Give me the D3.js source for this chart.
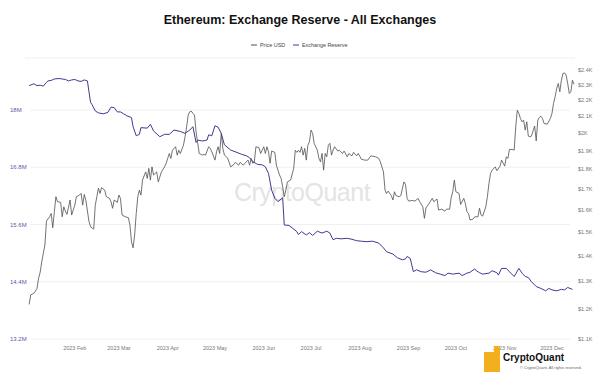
<!DOCTYPE html>
<html lang="en">
<head>
    <meta charset="UTF-8">
    <title>Ethereum: Exchange Reserve - All Exchanges</title>
    <script src="https://d3js.org/d3.v7.min.js"></script>
    <style>
        body {
            margin: 0;
            padding: 0;
            background-color: #fff;
            font-family: "Liberation Sans", Arial, sans-serif;
        }
        #chart {
            display: block;
        }
    </style>
</head>
<body>
    <svg id="chart" width="600" height="378"></svg>

    <script>
        // Exchange reserve (ETH, millions)
        const reserveDates = [
            "2023-01-03", "2023-01-06", "2023-01-08", "2023-01-10", "2023-01-12", "2023-01-14", "2023-01-15", "2023-01-17",
            "2023-01-19", "2023-01-22", "2023-01-24", "2023-01-26", "2023-01-28", "2023-01-30", "2023-02-01", "2023-02-03",
            "2023-02-05", "2023-02-07", "2023-02-09", "2023-02-10", "2023-02-11", "2023-02-12", "2023-02-14", "2023-02-16",
            "2023-02-19", "2023-02-22", "2023-02-24", "2023-02-26", "2023-02-28", "2023-03-02", "2023-03-04", "2023-03-06",
            "2023-03-09", "2023-03-10", "2023-03-12", "2023-03-14", "2023-03-15", "2023-03-19", "2023-03-21", "2023-03-23",
            "2023-03-27", "2023-03-30", "2023-04-02", "2023-04-05", "2023-04-09", "2023-04-12", "2023-04-15", "2023-04-17",
            "2023-04-19", "2023-04-20", "2023-04-23", "2023-04-26", "2023-04-27", "2023-04-29", "2023-05-01", "2023-05-03",
            "2023-05-05", "2023-05-07", "2023-05-11", "2023-05-15", "2023-05-18", "2023-05-21", "2023-05-23", "2023-05-25",
            "2023-05-28", "2023-05-31", "2023-06-02", "2023-06-04", "2023-06-06", "2023-06-08", "2023-06-10", "2023-06-13",
            "2023-06-14", "2023-06-17", "2023-06-19", "2023-06-22", "2023-06-23", "2023-06-25", "2023-06-28", "2023-06-30",
            "2023-07-02", "2023-07-05", "2023-07-08", "2023-07-11", "2023-07-13", "2023-07-15", "2023-07-17", "2023-07-20",
            "2023-07-24", "2023-07-27", "2023-07-30", "2023-08-02", "2023-08-05", "2023-08-09", "2023-08-13", "2023-08-16",
            "2023-08-18", "2023-08-22", "2023-08-25", "2023-08-28", "2023-08-30", "2023-08-31", "2023-09-02", "2023-09-04",
            "2023-09-06", "2023-09-09", "2023-09-12", "2023-09-15", "2023-09-18", "2023-09-21", "2023-09-24", "2023-09-26",
            "2023-09-29", "2023-10-03", "2023-10-05", "2023-10-08", "2023-10-10", "2023-10-13", "2023-10-14", "2023-10-16",
            "2023-10-18", "2023-10-22", "2023-10-24", "2023-10-27", "2023-10-28", "2023-10-30", "2023-11-02", "2023-11-04",
            "2023-11-07", "2023-11-10", "2023-11-12", "2023-11-14", "2023-11-16", "2023-11-18", "2023-11-21", "2023-11-24",
            "2023-11-27", "2023-11-29", "2023-12-01", "2023-12-04", "2023-12-07", "2023-12-09", "2023-12-11", "2023-12-14"
        ];
        const reserveValues = [
            18.51, 18.55, 18.51, 18.52, 18.50, 18.58, 18.61, 18.62,
            18.65, 18.66, 18.65, 18.64, 18.61, 18.63, 18.64, 18.61,
            18.60, 18.63, 18.61, 18.38, 18.16, 18.11, 17.98, 17.94,
            17.92, 17.95, 18.06, 18.05, 17.96, 17.96, 17.92, 17.88,
            17.84, 17.65, 17.46, 17.49, 17.63, 17.62, 17.70, 17.56,
            17.44, 17.49, 17.49, 17.58, 17.55, 17.51, 17.58, 17.65,
            17.32, 17.37, 17.35, 17.37, 17.48, 17.46, 17.67, 17.64,
            17.51, 17.27, 17.16, 17.11, 17.07, 17.04, 17.00, 16.92,
            16.86, 16.85, 16.81, 16.67, 16.32, 16.15, 16.08, 16.16,
            15.59, 15.58, 15.53, 15.45, 15.39, 15.45, 15.38, 15.43,
            15.37, 15.46, 15.42, 15.46, 15.42, 15.28, 15.31, 15.30,
            15.31, 15.29, 15.26, 15.25, 15.24, 15.25, 15.21, 15.11,
            15.03, 14.98, 14.90, 14.86, 14.88, 14.93, 14.89, 14.61,
            14.65, 14.61, 14.60, 14.65, 14.59, 14.56, 14.53, 14.58,
            14.56, 14.58, 14.53, 14.58, 14.60, 14.67, 14.63, 14.59,
            14.56, 14.58, 14.63, 14.59, 14.54, 14.68, 14.68, 14.61,
            14.51, 14.68, 14.58, 14.51, 14.49, 14.40, 14.30, 14.26,
            14.21, 14.26, 14.23, 14.21, 14.24, 14.23, 14.28, 14.24
        ];

        // ETH price (USD)
        const priceDates = [
            "2023-01-03", "2023-01-04", "2023-01-06", "2023-01-07", "2023-01-08", "2023-01-09", "2023-01-10", "2023-01-11",
            "2023-01-12", "2023-01-13", "2023-01-14", "2023-01-16", "2023-01-17", "2023-01-18", "2023-01-19", "2023-01-20",
            "2023-01-21", "2023-01-23", "2023-01-24", "2023-01-25", "2023-01-26", "2023-01-27", "2023-01-29", "2023-01-30",
            "2023-02-01", "2023-02-02", "2023-02-04", "2023-02-05", "2023-02-06", "2023-02-07", "2023-02-08", "2023-02-10",
            "2023-02-11", "2023-02-13", "2023-02-14", "2023-02-15", "2023-02-16", "2023-02-17", "2023-02-18", "2023-02-20",
            "2023-02-21", "2023-02-23", "2023-02-24", "2023-02-25", "2023-02-26", "2023-02-28", "2023-03-01", "2023-03-02",
            "2023-03-03", "2023-03-05", "2023-03-07", "2023-03-08", "2023-03-09", "2023-03-10", "2023-03-11", "2023-03-12",
            "2023-03-13", "2023-03-14", "2023-03-15", "2023-03-16", "2023-03-18", "2023-03-19", "2023-03-20", "2023-03-21",
            "2023-03-22", "2023-03-23", "2023-03-25", "2023-03-26", "2023-03-28", "2023-03-30", "2023-03-31", "2023-04-02",
            "2023-04-03", "2023-04-04", "2023-04-06", "2023-04-07", "2023-04-08", "2023-04-09", "2023-04-11", "2023-04-12",
            "2023-04-13", "2023-04-14", "2023-04-15", "2023-04-16", "2023-04-17", "2023-04-18", "2023-04-19", "2023-04-21",
            "2023-04-23", "2023-04-24", "2023-04-25", "2023-04-27", "2023-04-28", "2023-04-29", "2023-05-01", "2023-05-02",
            "2023-05-03", "2023-05-04", "2023-05-05", "2023-05-06", "2023-05-07", "2023-05-09", "2023-05-11", "2023-05-13",
            "2023-05-14", "2023-05-16", "2023-05-17", "2023-05-19", "2023-05-20", "2023-05-22", "2023-05-23", "2023-05-24",
            "2023-05-25", "2023-05-26", "2023-05-27", "2023-05-29", "2023-05-30", "2023-06-01", "2023-06-02", "2023-06-03",
            "2023-06-04", "2023-06-05", "2023-06-06", "2023-06-08", "2023-06-09", "2023-06-11", "2023-06-12", "2023-06-13",
            "2023-06-14", "2023-06-15", "2023-06-16", "2023-06-18", "2023-06-20", "2023-06-21", "2023-06-22", "2023-06-23",
            "2023-06-24", "2023-06-25", "2023-06-26", "2023-06-27", "2023-06-28", "2023-06-29", "2023-06-30", "2023-07-01",
            "2023-07-02", "2023-07-03", "2023-07-05", "2023-07-06", "2023-07-07", "2023-07-08", "2023-07-09", "2023-07-10",
            "2023-07-11", "2023-07-12", "2023-07-13", "2023-07-14", "2023-07-15", "2023-07-16", "2023-07-18", "2023-07-19",
            "2023-07-21", "2023-07-22", "2023-07-24", "2023-07-25", "2023-07-27", "2023-07-28", "2023-07-30", "2023-07-31",
            "2023-08-02", "2023-08-04", "2023-08-06", "2023-08-08", "2023-08-11", "2023-08-13", "2023-08-14", "2023-08-16",
            "2023-08-17", "2023-08-18", "2023-08-19", "2023-08-21", "2023-08-22", "2023-08-23", "2023-08-24", "2023-08-26",
            "2023-08-27", "2023-08-29", "2023-08-30", "2023-08-31", "2023-09-01", "2023-09-03", "2023-09-05", "2023-09-07",
            "2023-09-08", "2023-09-10", "2023-09-11", "2023-09-12", "2023-09-14", "2023-09-16", "2023-09-17", "2023-09-19",
            "2023-09-20", "2023-09-22", "2023-09-24", "2023-09-25", "2023-09-27", "2023-09-28", "2023-09-29", "2023-09-30",
            "2023-10-01", "2023-10-03", "2023-10-04", "2023-10-06", "2023-10-07", "2023-10-08", "2023-10-09", "2023-10-10",
            "2023-10-12", "2023-10-13", "2023-10-15", "2023-10-16", "2023-10-17", "2023-10-18", "2023-10-20", "2023-10-21",
            "2023-10-22", "2023-10-23", "2023-10-24", "2023-10-26", "2023-10-27", "2023-10-29", "2023-10-30", "2023-11-01",
            "2023-11-02", "2023-11-03", "2023-11-04", "2023-11-06", "2023-11-07", "2023-11-08", "2023-11-09", "2023-11-10",
            "2023-11-11", "2023-11-12", "2023-11-13", "2023-11-14", "2023-11-15", "2023-11-16", "2023-11-17", "2023-11-18",
            "2023-11-19", "2023-11-20", "2023-11-21", "2023-11-22", "2023-11-23", "2023-11-24", "2023-11-25", "2023-11-26",
            "2023-11-28", "2023-11-30", "2023-12-01", "2023-12-02", "2023-12-03", "2023-12-04", "2023-12-05", "2023-12-06",
            "2023-12-07", "2023-12-08", "2023-12-09", "2023-12-10", "2023-12-11", "2023-12-12", "2023-12-13", "2023-12-14",
            "2023-12-15"
        ];
        const priceValues = [
            1216, 1250, 1256, 1264, 1274, 1312, 1335, 1376,
            1410, 1445, 1549, 1568, 1583, 1519, 1591, 1662,
            1638, 1635, 1568, 1614, 1594, 1579, 1646, 1576,
            1622, 1662, 1670, 1678, 1622, 1673, 1646, 1546,
            1523, 1513, 1622, 1662, 1703, 1678, 1706, 1694,
            1662, 1654, 1638, 1607, 1646, 1635, 1670, 1654,
            1576, 1568, 1564, 1531, 1458, 1433, 1487, 1583,
            1662, 1694, 1670, 1744, 1786, 1753, 1804, 1744,
            1812, 1770, 1786, 1735, 1786, 1812, 1831, 1884,
            1857, 1902, 1921, 1875, 1902, 1884, 1930, 1977,
            2035, 2106, 2126, 2130, 2116, 2106, 2006, 1884,
            1875, 1879, 1875, 1921, 1912, 1893, 1848, 1893,
            1921, 1884, 1997, 1912, 1875, 1860, 1812, 1825,
            1836, 1821, 1836, 1821, 1831, 1848, 1821, 1857,
            1831, 1839, 1921, 1915, 1884, 1921, 1884, 1921,
            1893, 1831, 1897, 1890, 1821, 1770, 1753, 1710,
            1662, 1694, 1735, 1744, 1804, 1902, 1890, 1902,
            1890, 1921, 1875, 1912, 1848, 1930, 1949, 2016,
            1997, 1940, 1902, 1857, 1839, 1884, 1795, 1884,
            1866, 1930, 1940, 1875, 1902, 1921, 1897, 1902,
            1884, 1897, 1866, 1884, 1871, 1890, 1871, 1884,
            1853, 1848, 1848, 1871, 1866, 1857, 1839, 1786,
            1694, 1678, 1689, 1667, 1646, 1686, 1667, 1662,
            1667, 1735, 1722, 1654, 1641, 1644, 1641, 1654,
            1638, 1614, 1561, 1609, 1630, 1654, 1638, 1651,
            1599, 1603, 1594, 1603, 1603, 1657, 1686, 1744,
            1686, 1678, 1625, 1654, 1630, 1591, 1583, 1553,
            1558, 1568, 1568, 1607, 1576, 1571, 1614, 1662,
            1727, 1778, 1795, 1812, 1792, 1816, 1848, 1816,
            1866, 1857, 1906, 1906, 1902, 2035, 2136, 2116,
            2085, 2065, 2075, 2016, 2065, 1981, 1977, 1981,
            2012, 2040, 1954, 2075, 2092, 2099, 2085, 2055,
            2051, 2085, 2116, 2178, 2220, 2275, 2308, 2253,
            2330, 2376, 2380, 2364, 2308, 2242, 2253, 2330,
            2303
        ];

        const reserveTicks = [13.2, 14.4, 15.6, 16.8, 18];
        const priceTicks = [1100, 1200, 1300, 1400, 1500, 1600, 1700, 1800, 1900, 2000, 2100, 2200, 2300, 2400];

        const width = 600;
        const height = 378;
        const plotLeft = 26;
        const plotRight = 574;
        const reserveColor = '#3f3a93';
        const priceColor = '#4f4f4f';

        const parseDate = d3.utcParse('%Y-%m-%d');
        const reserve = reserveDates.map((d, i) => ({ date: parseDate(d), value: reserveValues[i] }));
        const price = priceDates.map((d, i) => ({ date: parseDate(d), value: priceValues[i] }));

        const svg = d3.select('#chart');

        // Scales
        const x = d3.scaleUtc()
            .domain([parseDate('2023-01-01'), parseDate('2023-12-15')])
            .range([plotLeft, plotRight]);
        const yReserve = d3.scaleLinear()
            .domain([13.2, 18])
            .range([339, 110]);
        const yPrice = d3.scaleLog()
            .domain([1100, 2400])
            .range([339, 70]);

        // Title and legend
        svg.append('text')
            .attr('x', width / 2)
            .attr('y', 24)
            .attr('text-anchor', 'middle')
            .attr('font-size', 12.5)
            .attr('font-weight', 'bold')
            .attr('fill', '#111')
            .text('Ethereum: Exchange Reserve - All Exchanges');

        const legend = svg.append('g').attr('font-size', 5.4).attr('fill', '#444');
        const legendItems = [
            { label: 'Price USD', color: priceColor, x: 251 },
            { label: 'Exchange Reserve', color: reserveColor, x: 293 }
        ];
        legendItems.forEach(item => {
            legend.append('line')
                .attr('x1', item.x).attr('x2', item.x + 6)
                .attr('y1', 45).attr('y2', 45)
                .attr('stroke', item.color)
                .attr('stroke-width', 1);
            legend.append('text')
                .attr('x', item.x + 9)
                .attr('y', 47)
                .text(item.label);
        });

        // separator under legend
        svg.append('line')
            .attr('x1', 25).attr('x2', 575)
            .attr('y1', 58).attr('y2', 58)
            .attr('stroke', '#f0f0f0');

        // Gridlines + left axis labels
        svg.append('g')
            .selectAll('line')
            .data(reserveTicks)
            .enter()
            .append('line')
            .attr('x1', 30).attr('x2', 570)
            .attr('y1', d => yReserve(d)).attr('y2', d => yReserve(d))
            .attr('stroke', '#ececec')
            .attr('stroke-width', 0.8);

        svg.append('g')
            .selectAll('text')
            .data(reserveTicks)
            .enter()
            .append('text')
            .attr('x', 10)
            .attr('y', d => yReserve(d) + 2)
            .attr('font-size', 6)
            .attr('fill', '#5e56a8')
            .text(d => d + 'M');

        // Right axis labels
        svg.append('g')
            .selectAll('text')
            .data(priceTicks)
            .enter()
            .append('text')
            .attr('x', 578)
            .attr('y', d => yPrice(d) + 2)
            .attr('font-size', 5.5)
            .attr('fill', '#777')
            .text(d => '$' + (d / 1000) + 'K');

        // X axis labels
        const monthTicks = x.ticks(d3.utcMonth.every(1)).filter(d => d.getUTCMonth() > 0);
        svg.append('g')
            .selectAll('text')
            .data(monthTicks)
            .enter()
            .append('text')
            .attr('x', d => x(d))
            .attr('y', 350)
            .attr('text-anchor', 'middle')
            .attr('font-size', 5.5)
            .attr('fill', '#777')
            .text(d => d3.utcFormat('%Y %b')(d));

        // Watermark
        svg.append('text')
            .attr('x', 302)
            .attr('y', 201)
            .attr('text-anchor', 'middle')
            .attr('font-size', 25)
            .attr('fill', '#e4e4e4')
            .attr('letter-spacing', -0.5)
            .text('CryptoQuant');

        // Lines
        const reserveLine = d3.line()
            .x(d => x(d.date))
            .y(d => yReserve(d.value));
        const priceLine = d3.line()
            .x(d => x(d.date))
            .y(d => yPrice(d.value));

        svg.append('path')
            .datum(reserve)
            .attr('fill', 'none')
            .attr('stroke', reserveColor)
            .attr('stroke-width', 1)
            .attr('d', reserveLine);

        svg.append('path')
            .datum(price)
            .attr('fill', 'none')
            .attr('stroke', priceColor)
            .attr('stroke-width', 0.8)
            .attr('d', priceLine);

        // Bottom-right logo
        const logo = svg.append('g');
        logo.append('path')
            .attr('d', 'M484,352 h10 v-6 h6 v26 h-16 z')
            .attr('fill', '#f2b01e');
        logo.append('text')
            .attr('x', 503)
            .attr('y', 361)
            .attr('font-size', 10)
            .attr('font-weight', 'bold')
            .attr('fill', '#111')
            .text('CryptoQuant');
        logo.append('text')
            .attr('x', 520)
            .attr('y', 369)
            .attr('font-size', 4)
            .attr('fill', '#666')
            .text('© CryptoQuant. All rights reserved.');
    </script>
</body>
</html>
